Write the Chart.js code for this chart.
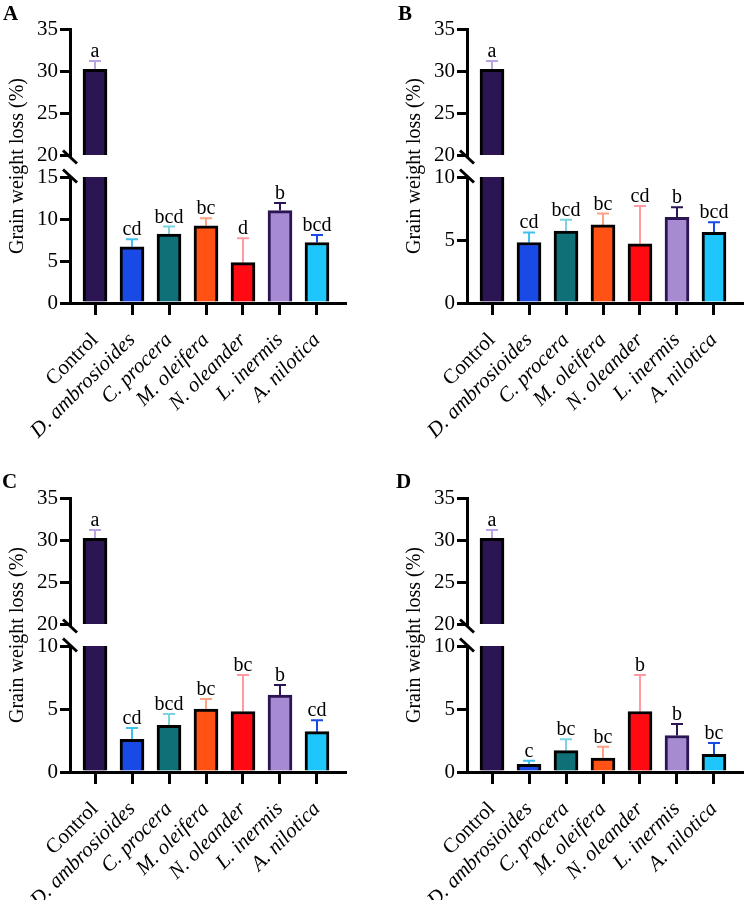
<!DOCTYPE html>
<html>
<head>
<meta charset="utf-8">
<script src="https://cdn.jsdelivr.net/npm/chart.js@4.4.0/dist/chart.umd.min.js"></script>
<style>
  html, body { margin: 0; padding: 0; background: #fff; }
  body { width: 744px; height: 900px; position: relative; overflow: hidden; font-family: 'Liberation Serif', 'Times New Roman', serif; }
  .panel { position: absolute; width: 360px; height: 460px; }
  .panel canvas { position: absolute; left: 0; }
  .ytitle { position: absolute; width: 300px; height: 24px; line-height: 24px; text-align: center; font-size: 20px; color: #000; transform: rotate(-90deg); transform-origin: 50% 50%; white-space: nowrap; }
  .plabel { position: absolute; font-weight: bold; font-size: 21px; color: #000; line-height: 21px; }
</style>
</head>
<body>
<script>
// ---------------- data ----------------
const categories = ['Control', 'D. ambrosioides', 'C. procera', 'M. oleifera', 'N. oleander', 'L. inermis', 'A. nilotica'];

const lossA = [30.2, 6.7, 8.2, 9.2, 4.8, 11.0, 7.2];
const errA  = [1.0, 0.9, 0.9, 0.9, 2.9, 0.9, 0.9];
const letA  = ['a', 'cd', 'bcd', 'bc', 'd', 'b', 'bcd'];

const lossB = [30.2, 4.8, 5.7, 6.2, 4.7, 6.8, 5.6];
const errB  = [1.0, 0.8, 0.9, 0.9, 3.0, 0.8, 0.8];
const letB  = ['a', 'cd', 'bcd', 'bc', 'cd', 'b', 'bcd'];

const lossC = [30.2, 2.6, 3.7, 5.0, 4.8, 6.1, 3.2];
const errC  = [1.0, 0.9, 0.9, 0.8, 2.9, 0.8, 0.9];
const letC  = ['a', 'cd', 'bcd', 'bc', 'bc', 'b', 'cd'];

const lossD = [30.2, 0.6, 1.7, 1.1, 4.8, 2.9, 1.4];
const errD  = [1.0, 0.3, 0.9, 0.9, 2.9, 0.9, 0.9];
const letD  = ['a', 'c', 'bc', 'bc', 'b', 'b', 'bc'];

const upperTicks  = [20, 25, 30, 35];
const lowerTicksA = [0, 5, 10, 15];
const lowerTicks  = [0, 5, 10];

const yTitle = 'Grain weight loss (%)';

// ---------------- styles ----------------
const fillColors = ['#2b1553', '#1a4ae6', '#107078', '#ff5214', '#ff0a12', '#a68bd2', '#1ec6fb'];
const edgeColors = ['#000000', '#000000', '#000000', '#000000', '#000000', '#2b1553', '#000000'];
const errColors  = ['#b9a3e3', '#3fc1ef', '#7bd3df', '#ffa183', '#ff9ba0', '#2b1553', '#1a4ae6'];
const SERIF = "'Liberation Serif', 'Times New Roman', serif";
const X_MIN = -0.676, X_MAX = 6.757;

const panels = [
  { name: 'A', left: 0,   top: 0,   loss: lossA, err: errA, letters: letA, lower: lowerTicksA },
  { name: 'B', left: 397, top: 0,   loss: lossB, err: errB, letters: letB, lower: lowerTicks },
  { name: 'C', left: 0,   top: 469, loss: lossC, err: errC, letters: letC, lower: lowerTicks },
  { name: 'D', left: 397, top: 469, loss: lossD, err: errD, letters: letD, lower: lowerTicks }
];
const labelPos = { A: [3, 3], B: [398, 3], C: [2, 471], D: [396, 471] };

// ---------------- helpers ----------------
function yScale(t) {
  return {
    min: t[0], max: t[t.length - 1],
    ticks: { stepSize: t[1] - t[0], color: '#000', font: { family: SERIF, size: 21 }, padding: 2 },
    grid: { drawOnChartArea: false, drawTicks: true, tickLength: 10, tickWidth: 3, tickColor: '#000', lineWidth: 3, color: '#000' },
    border: { display: true, width: 3, color: '#000' },
    afterFit(s) { s.width = 70; }
  };
}

function xScale(visible) {
  return {
    type: 'linear', display: visible, min: X_MIN, max: X_MAX, offset: false,
    afterBuildTicks(s) { s.ticks = categories.map((c, i) => ({ value: i })); },
    ticks: {
      autoSkip: false, minRotation: 45, maxRotation: 45, padding: 13, color: '#000',
      callback: (v) => categories[v],
      font: (ctx) => ({ family: SERIF, size: 21, style: ctx.index === 0 ? 'normal' : 'italic' })
    },
    grid: { offset: false, drawOnChartArea: false, drawTicks: true, tickLength: 12, tickWidth: 3, tickColor: '#000', lineWidth: 3, color: '#000' },
    border: { display: true, width: 3, color: '#000' },
    afterFit(s) { s.height = visible ? 147 : 0; }
  };
}

function annotations(vals, errs, letters, lo, hi) {
  return {
    id: 'annot',
    beforeDatasetsDraw(chart) {
      const ctx = chart.ctx, xs = chart.scales.x, ys = chart.scales.y;
      ctx.save();
      ctx.lineWidth = 2;
      vals.forEach((v, i) => {
        if (!(v > lo && v <= hi)) return;
        const px = xs.getPixelForValue(i);
        const y0 = ys.getPixelForValue(v), y1 = ys.getPixelForValue(v + errs[i]);
        ctx.strokeStyle = errColors[i];
        ctx.beginPath();
        ctx.moveTo(px, y0); ctx.lineTo(px, y1);
        ctx.moveTo(px - 6, y1); ctx.lineTo(px + 6, y1);
        ctx.stroke();
      });
      ctx.restore();
    },
    afterDatasetsDraw(chart) {
      const ctx = chart.ctx, xs = chart.scales.x, ys = chart.scales.y;
      ctx.save();
      ctx.fillStyle = '#000';
      ctx.font = '20px ' + SERIF;
      ctx.textAlign = 'center';
      ctx.textBaseline = 'alphabetic';
      vals.forEach((v, i) => {
        if (!(v > lo && v <= hi)) return;
        const px = xs.getPixelForValue(i);
        const y1 = ys.getPixelForValue(v + errs[i]);
        ctx.fillText(letters[i], px, y1 - 4);
      });
      ctx.restore();
    }
  };
}

function breakMark(where) {
  return {
    id: 'brk',
    afterDraw(chart) {
      const a = chart.chartArea, ctx = chart.ctx;
      const cy = where === 'bottom' ? a.bottom + 2 : a.top - 1;
      ctx.save();
      ctx.strokeStyle = '#000';
      ctx.lineWidth = 3;
      ctx.beginPath();
      ctx.moveTo(a.left - 7, cy - 6.5);
      ctx.lineTo(a.left + 7, cy + 6.5);
      ctx.stroke();
      ctx.restore();
    }
  };
}

function dataset(values) {
  return {
    data: values.map((v, i) => ({ x: i, y: v })),
    backgroundColor: fillColors,
    borderColor: edgeColors,
    borderWidth: 3,
    borderSkipped: 'start',
    barThickness: 24,
    clip: 0
  };
}

function baseOptions(padding, xs, ys) {
  return {
    responsive: false, animation: false, devicePixelRatio: 1, events: [],
    layout: { padding },
    plugins: { legend: { display: false }, tooltip: { enabled: false }, title: { display: false } },
    scales: { x: xs, y: ys }
  };
}

// ---------------- build ----------------
panels.forEach(p => {
  const div = document.createElement('div');
  div.className = 'panel';
  div.style.left = p.left + 'px';
  div.style.top = p.top + 'px';
  document.body.appendChild(div);

  const upCanvas = document.createElement('canvas');
  upCanvas.width = 350; upCanvas.height = 170;
  upCanvas.style.top = '0px';
  div.appendChild(upCanvas);

  const loCanvas = document.createElement('canvas');
  loCanvas.width = 350; loCanvas.height = 300;
  loCanvas.style.top = '150px';
  div.appendChild(loCanvas);

  const title = document.createElement('div');
  title.className = 'ytitle';
  title.textContent = yTitle;
  title.style.left = (16 - 150) + 'px';
  title.style.top = (166 - 12) + 'px';
  div.appendChild(title);

  const uMin = upperTicks[0], uMax = upperTicks[upperTicks.length - 1];
  const lMax = p.lower[p.lower.length - 1];

  new Chart(upCanvas, {
    type: 'bar',
    data: { datasets: [dataset(p.loss.map(v => (v > uMin ? v : null)))] },
    options: baseOptions({ left: 0, right: 5, top: 29, bottom: 15 }, xScale(false), yScale(upperTicks)),
    plugins: [annotations(p.loss, p.err, p.letters, uMin, uMax), breakMark('bottom')]
  });

  new Chart(loCanvas, {
    type: 'bar',
    data: { datasets: [dataset(p.loss)] },
    options: baseOptions({ left: 0, right: 5, top: 27, bottom: 0 }, xScale(true), yScale(p.lower)),
    plugins: [annotations(p.loss, p.err, p.letters, -1, lMax), breakMark('top')]
  });
});

Object.keys(labelPos).forEach(k => {
  const d = document.createElement('div');
  d.className = 'plabel';
  d.textContent = k;
  d.style.left = labelPos[k][0] + 'px';
  d.style.top = labelPos[k][1] + 'px';
  document.body.appendChild(d);
});
</script>
</body>
</html>
